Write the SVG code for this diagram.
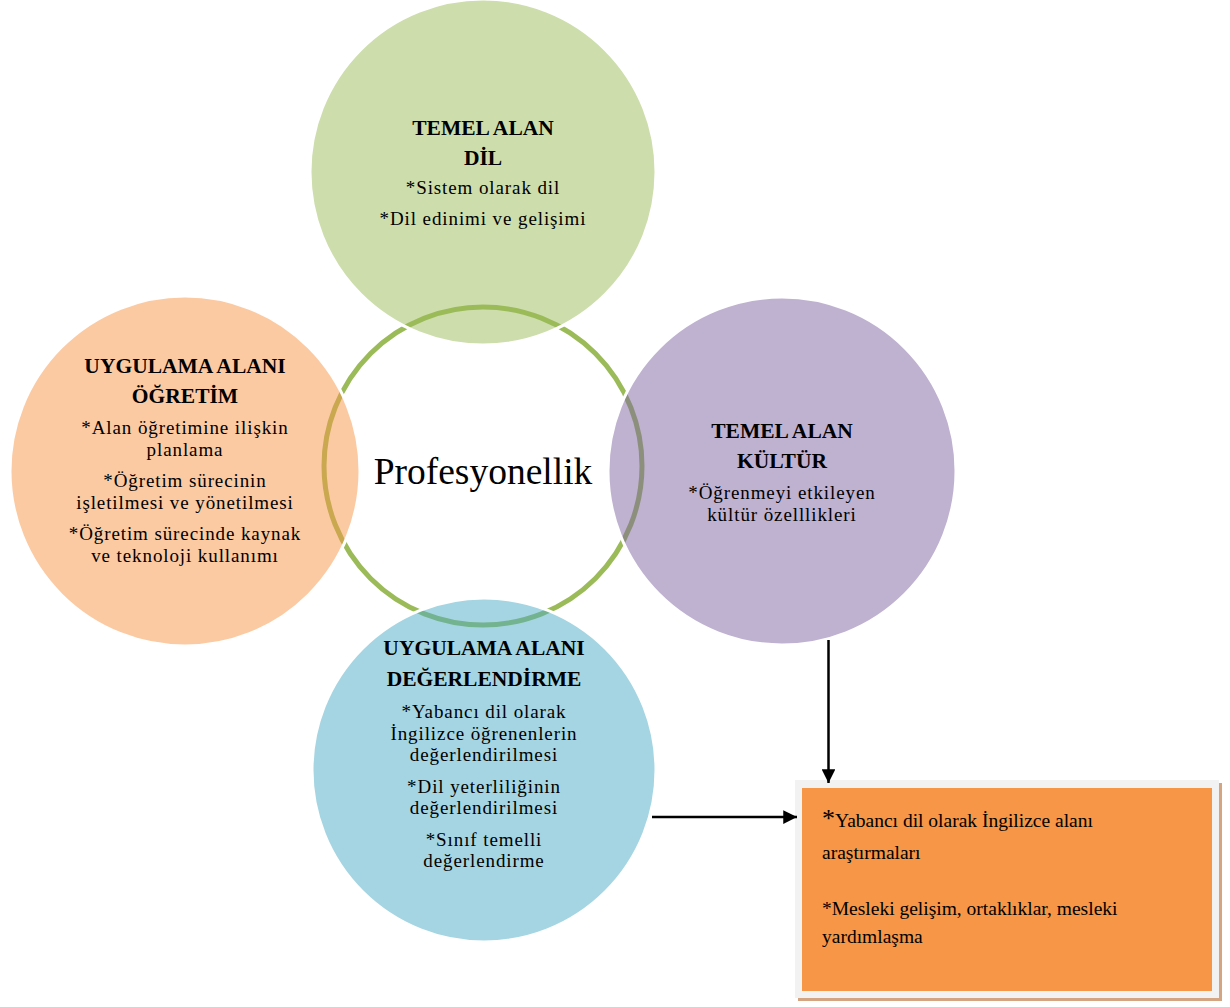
<svg xmlns="http://www.w3.org/2000/svg" width="1230" height="1007" viewBox="0 0 1230 1007">
<defs>
<style>
.t{font-family:"Liberation Serif","Times New Roman",serif;fill:#000;text-anchor:middle}
.h{font-size:21.5px;font-weight:bold}
.b{font-size:19px;letter-spacing:0.9px}
.c{fill-opacity:0.5;stroke:#fff;stroke-width:3}
.ln{stroke:#000;stroke-width:2.5;fill:none}
</style>
<marker id="ah" viewBox="0 0 10 10" refX="10" refY="5" markerWidth="5.5" markerHeight="5.5" orient="auto" markerUnits="strokeWidth">
<path d="M0,0 L10,5 L0,10 z" fill="#000"/>
</marker>
</defs>
<rect width="1230" height="1007" fill="#fff"/>
<g id="center">
<circle cx="483" cy="466" r="159" fill="none" stroke="#9bbb59" stroke-width="5"/>
<text class="t" x="483" y="484" font-size="37.5">Profesyonellik</text>
</g>
<g id="dil">
<circle class="c" cx="483" cy="172" r="173" fill="#9bbb59"/>
<text class="t h" x="483" y="135">TEMEL ALAN</text>
<text class="t h" x="483" y="165">DİL</text>
<text class="t b" x="483" y="194">*Sistem olarak dil</text>
<text class="t b" x="483" y="225">*Dil edinimi ve gelişimi</text>
</g>
<g id="ogretim">
<circle class="c" cx="185" cy="471" r="175" fill="#f79646"/>
<text class="t h" x="185" y="373">UYGULAMA ALANI</text>
<text class="t h" x="185" y="403">ÖĞRETİM</text>
<text class="t b" x="185" y="434">*Alan öğretimine ilişkin</text>
<text class="t b" x="185" y="456">planlama</text>
<text class="t b" x="185" y="487">*Öğretim sürecinin</text>
<text class="t b" x="185" y="509">işletilmesi ve yönetilmesi</text>
<text class="t b" x="185" y="540">*Öğretim sürecinde kaynak</text>
<text class="t b" x="185" y="562">ve teknoloji kullanımı</text>
</g>
<g id="kultur">
<circle class="c" cx="782" cy="471" r="174" fill="#8064a2"/>
<text class="t h" x="782" y="438">TEMEL ALAN</text>
<text class="t h" x="782" y="468">KÜLTÜR</text>
<text class="t b" x="782" y="499">*Öğrenmeyi etkileyen</text>
<text class="t b" x="782" y="521">kültür özelllikleri</text>
</g>
<g id="degerlendirme">
<circle class="c" cx="484" cy="770" r="172" fill="#4bacc6"/>
<text class="t h" x="484" y="655">UYGULAMA ALANI</text>
<text class="t h" x="484" y="686">DEĞERLENDİRME</text>
<text class="t b" x="484" y="718">*Yabancı dil olarak</text>
<text class="t b" x="484" y="740">İngilizce öğrenenlerin</text>
<text class="t b" x="484" y="761">değerlendirilmesi</text>
<text class="t b" x="484" y="793">*Dil yeterliliğinin</text>
<text class="t b" x="484" y="814">değerlendirilmesi</text>
<text class="t b" x="484" y="846">*Sınıf temelli</text>
<text class="t b" x="484" y="867">değerlendirme</text>
</g>
<g id="arastirma">
<rect x="798" y="783" width="424" height="218" fill="#d3a583"/>
<rect x="795" y="780" width="424" height="218" fill="#f2f2f2"/>
<rect x="802" y="788" width="410" height="203" fill="#f79646"/>
<text font-family="Liberation Serif, Times New Roman, serif" font-size="19.5" fill="#000"><tspan x="822" y="827"><tspan font-size="26">*</tspan>Yabancı dil olarak İngilizce alanı</tspan><tspan x="822" y="859">araştırmaları</tspan><tspan x="822" y="915">*Mesleki gelişim, ortaklıklar, mesleki</tspan><tspan x="822" y="943">yardımlaşma</tspan></text>
</g>
<g id="connectors">
<line class="ln" x1="828.5" y1="640" x2="828.5" y2="783" marker-end="url(#ah)"/>
<line class="ln" x1="652" y1="817" x2="797" y2="817" marker-end="url(#ah)"/>
</g>
</svg>
